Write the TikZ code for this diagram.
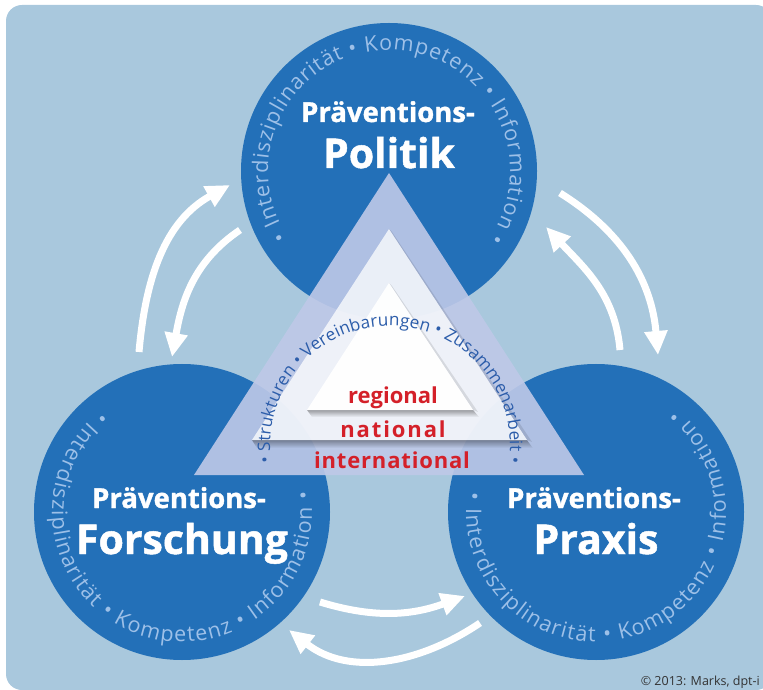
\documentclass[tikz,border=0pt]{standalone}
\usepackage{fontspec}
\setmainfont{Open Sans}
\newfontfamily\heavyfont{Open Sans}[FakeBold=1.2]
\usetikzlibrary{arrows.meta,decorations.text,fadings}
\definecolor{bgblue}{HTML}{A9C8DD}
\definecolor{circblue}{HTML}{2370B8}
\definecolor{trilav}{HTML}{BFC9E8}
\definecolor{ringblue}{HTML}{9DC0E8}
\definecolor{midblue}{HTML}{2C5DAA}
\definecolor{redtxt}{HTML}{D42029}
\begin{document}
\begin{tikzpicture}[x=1pt,y=1pt,
  circ/.style={circle, fill=circblue, draw=none, minimum size=296pt, inner sep=0pt},
  flow/.style={draw=white, line width=7pt, -{Triangle[length=24pt,width=22pt]}},
  titlea/.style={text=white, font=\heavyfont\bfseries\fontsize{27.5}{30}\selectfont, anchor=base, inner sep=0pt},
  titleb/.style={text=white, font=\heavyfont\bfseries\fontsize{41}{44}\selectfont, anchor=base, inner sep=0pt},
  level/.style={text=redtxt, anchor=base, inner sep=0pt, font=\fontsize{22}{24}\selectfont\bfseries},
  shadowband/.style={fill=black, path fading=south, fill opacity=0.35},
]
\useasboundingbox (0,0) rectangle (763,689);
% background
\fill[bgblue, rounded corners=16pt] (6,-1) rectangle (772,684);

% circles
\node[circ] (cpol) at (389,518) {};
\node[circ] (cfor) at (182,177) {};
\node[circ] (cpra) at (596,177) {};

% arrow end points
\coordinate (a1s) at (139,337); \coordinate (a1e) at (230,504);
\coordinate (a2s) at (240,459); \coordinate (a2e) at (172,332);
\coordinate (a3s) at (560,496); \coordinate (a3e) at (658,334);
\coordinate (a4s) at (620,339); \coordinate (a4e) at (546,462);
\coordinate (a5s) at (320,87);  \coordinate (a5e) at (465,93);
\coordinate (a6s) at (480,66);  \coordinate (a6e) at (289,59);

\draw[flow] (a1s) to[out=85,in=209] (a1e);
\draw[flow] (a2s) to[out=214,in=80] (a2e);
\draw[flow] (a3s) to[out=-32,in=95] (a3e);
\draw[flow] (a4s) to[out=95,in=-47] (a4e);
\draw[flow] (a5s) to[out=-17,in=200] (a5e);
\draw[flow] (a6s) to[out=214,in=-38] (a6e);

% ring texts
\path[decorate, decoration={text along path, text align={fit to path},
  text={|\fontsize{21.5}{23}\selectfont\color{ringblue}|• Interdisziplinarität • Kompetenz • Information •}}]
  ([shift={(213.2:121)}]cpol.center) arc[start angle=213.2, end angle=-34.6, radius=121];
\path[decorate, decoration={text along path, text align={fit to path},
  text={|\fontsize{21.5}{23}\selectfont\color{ringblue}|• Interdisziplinarität • Kompetenz • Information •}}]
  ([shift={(128.9:130)}]cfor.center) arc[start angle=128.9, end angle=369.3, radius=130];
\path[decorate, decoration={text along path, text align={fit to path},
  text={|\fontsize{21.5}{23}\selectfont\color{ringblue}|• Interdisziplinarität • Kompetenz • Information •}}]
  ([shift={(171.1:130)}]cpra.center) arc[start angle=171.1, end angle=412.1, radius=130];

% big triangle
\fill[trilav, fill opacity=0.9] (389,516) -- (194,214) -- (584,214) -- cycle;

% middle triangle with shadow
\fill[shadowband] (252,249) -- (527,249) -- (533,241) -- (257,241) -- cycle;
\fill[black, opacity=0.10] (389,460) -- (527,249) -- (532,247) -- (392,457) -- cycle;
\fill[white, fill opacity=0.75] (389,460) -- (252,249) -- (527,249) -- cycle;

% inner triangle with shadow
\fill[shadowband] (307,279) -- (473,279) -- (479,272) -- (312,272) -- cycle;
\fill[black, opacity=0.10] (389,406) -- (473,279) -- (478,277) -- (392,403) -- cycle;
\fill[white, fill opacity=0.95] (389,406) -- (307,279) -- (473,279) -- cycle;

% arc text in middle triangle
\coordinate (mc) at (390,243.2);
\path[decorate, decoration={text along path, text align={fit to path},
  text={|\fontsize{17.2}{19}\selectfont\color{midblue}|• Strukturen • Vereinbarungen • Zusammenarbeit •}}]
  ([shift={(188:120)}]mc) arc[start angle=188, end angle=-8, radius=120];

% levels
\node[level] (lreg) at (393,286) {regional};
\node[level] (lnat) at (393,252) {\addfontfeatures{LetterSpace=8.6}national};
\node[level] (lint) at (392,221) {\addfontfeatures{LetterSpace=3.8}international};

% titles
\node[titlea] (tpola) at (388,567) {Präventions-};
\node[titleb] (tpolb) at (389,521) {Politik};
\node[titlea] (tfora) at (179,181) {Präventions-};
\node[titleb] (tforb) at (182,135) {Forschung};
\node[titlea] (tpraa) at (594,181) {Präventions-};
\node[titleb] (tprab) at (596,135) {Praxis};

% copyright
\node[anchor=base east, inner sep=0pt, font=\fontsize{12.5}{14}\selectfont, text=black!80] (copy) at (760,4) {© 2013: Marks, dpt-i};
\end{tikzpicture}
\end{document}
